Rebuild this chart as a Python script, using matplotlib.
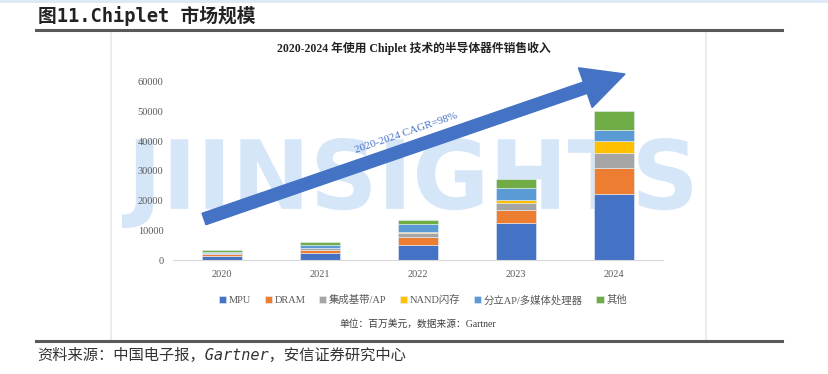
import numpy as np
from matplotlib import pyplot as plt
from matplotlib.lines import Line2D
from matplotlib.patches import FancyArrow, PathPatch
from matplotlib.textpath import TextPath
from matplotlib.font_manager import FontProperties
from matplotlib.transforms import Affine2D

#  -- datos (millones de USD) --
years = ['2020', '2021', '2022', '2023', '2024']
series_names = ['MPU', 'DRAM', '集成基带/AP', 'NAND闪存', '分立AP/多媒体处理器', '其他']
mpu = [1350, 2240, 4930, 12340, 22100]
dram = [670, 1120, 2900, 4380, 8950]
baseband = [340, 560, 1250, 2350, 4900]
nand = [60, 110, 220, 1120, 3950]
ap = [270, 900, 2800, 4150, 3900]
otros = [570, 1010, 1350, 2810, 6400]
colores = ['#4472C4', '#ED7D31', '#A5A5A5', '#FFC000', '#5B9BD5', '#70AD47']
yticks = [0, 10000, 20000, 30000, 40000, 50000, 60000]

serif = ['Liberation Serif', 'Noto Sans CJK SC']
mono = ['DejaVu Sans Mono', 'Noto Sans CJK SC']

W, H = 829, 374
fig = plt.figure(figsize=(W / 100, H / 100), dpi=100)


def px(x, y):
    # pixeles de la imagen -> fraccion de figura
    return x / W, 1 - y / H


# marca de agua (detras de todo)
tp = TextPath((0, 0), 'JIINSIGHTS', size=1, prop=FontProperties(family='DejaVu Sans', weight='bold'))
ext = tp.get_extents()
x0, y0 = px(122, 228)
x1, y1 = px(692, 138)
tr = Affine2D().translate(-ext.x0, -ext.y0).scale((x1 - x0) / ext.width, (y1 - y0) / ext.height).translate(x0, y0)
wm = PathPatch(tr.transform_path(tp), facecolor='#d6e6f9', edgecolor='none', transform=fig.transFigure, zorder=-1)
fig.patches.append(wm)

l, b = px(173, 260)
r, t = px(663, 81.7)
ax = fig.add_axes([l, b, r - l, t - b])
ax.set_facecolor('none')

x = np.arange(len(years))
fondo = np.zeros(len(years))
for vals, nombre, c in zip([mpu, dram, baseband, nand, ap, otros], series_names, colores):
    ax.bar(x, vals, 0.4, bottom=fondo, color=c, edgecolor='#e8eef8', linewidth=0.4, label=nombre)
    fondo = fondo + np.array(vals)

ax.set_xlim(-0.5, 4.5)
ax.set_ylim(0, 60000)
ax.set_yticks(yticks)
ax.set_yticklabels([str(v) for v in yticks], family=serif, fontsize=7.5, color='#595959')
ax.set_xticks(x)
ax.set_xticklabels(years, family=serif, fontsize=7.5, color='#595959')
ax.tick_params(length=0, pad=7)
for s in ['top', 'right', 'left']:
    ax.spines[s].set_visible(False)
ax.spines['bottom'].set_color('#d9d9d9')

fig.legend(loc='center', bbox_to_anchor=px(423, 300), ncol=6, frameon=False,
           prop=FontProperties(family=serif, size=7.5), handlelength=0.7, handleheight=0.7,
           handletextpad=0.25, columnspacing=1.3, labelcolor='#595959')

# flecha de crecimiento
fig.patches.append(FancyArrow(2.04, (H - 219) / 100, 4.21, 1.45, width=0.12, head_width=0.42,
                              head_length=0.42, length_includes_head=True, color='#4472C4',
                              transform=fig.dpi_scale_trans, zorder=5))
fig.text(*px(406, 133), '2020-2024 CAGR=98%', family=serif, fontsize=8, color='#4472C4',
         rotation=19, ha='center', va='center', zorder=6)

# textos
fig.text(*px(38, 16), '图11.Chiplet 市场规模', family=mono, fontsize=13.5, weight='bold',
         color='#222222', ha='left', va='center')
fig.text(*px(414, 48), '2020-2024 年使用 Chiplet 技术的半导体器件销售收入', family=serif,
         fontsize=8.5, weight='bold', color='#222222', ha='center', va='center')
fig.text(*px(418, 324), '单位：百万美元，数据来源：Gartner', family=serif, fontsize=7,
         color='#404040', ha='center', va='center')
fig.text(*px(37, 355), '资料来源：中国电子报，Gartner，安信证券研究中心', family=mono, fontsize=11,
         style='italic', color='#333333', ha='left', va='center')

# lineas de marco
fig.add_artist(Line2D([0, 1], [1 - 1 / H, 1 - 1 / H], transform=fig.transFigure, color='#dde8f5', lw=2))
for xx in [111, 706]:
    fig.add_artist(Line2D([xx / W, xx / W], [1 - 31 / H, 1 - 340 / H], transform=fig.transFigure,
                          color='#ececec', lw=1.5))
for yy in [30, 340.5]:
    fig.add_artist(Line2D([36 / W, 782 / W], [1 - yy / H, 1 - yy / H], transform=fig.transFigure,
                          color='#595959', lw=2.2))

fig.savefig('out.png', dpi=100)
